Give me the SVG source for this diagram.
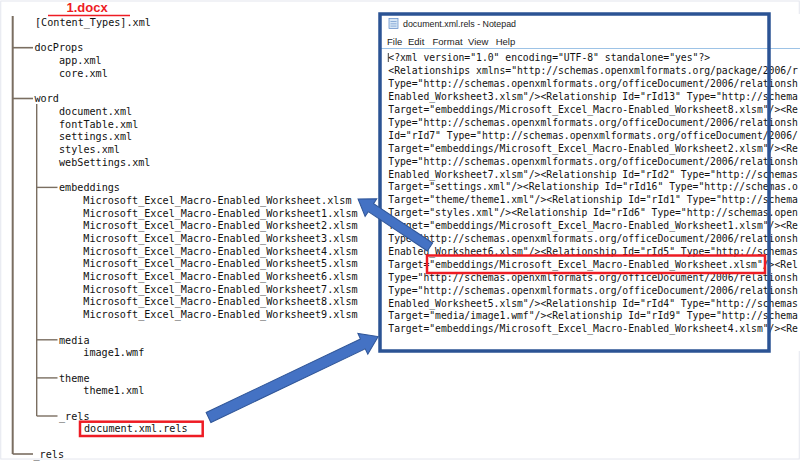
<svg xmlns="http://www.w3.org/2000/svg" width="800" height="461" viewBox="0 0 800 461">
<style>
.t{font-family:"DejaVu Sans Mono","Liberation Mono",monospace;font-size:10.15px;fill:#111}
.n{font-family:"DejaVu Sans Mono","Liberation Mono",monospace;font-size:9.72px;fill:#111}
.ui{font-family:"Liberation Sans","Open Sans",sans-serif;font-size:9.5px;fill:#222}
.tr{stroke:#7a6e61;fill:none}
.hl{fill:none;stroke:#ee1c24;stroke-width:2.5}
.arr{fill:#4472c4;stroke:#2f5597;stroke-width:1}
</style>
<rect x="0" y="0" width="800" height="461" fill="#fff"/>
<rect x="0.75" y="1" width="798.5" height="458" fill="none" stroke="#e4e6ee" stroke-width="1"/>

<g id="title">
<text x="66.5" y="11.5" font-family="Liberation Sans,Arial,sans-serif" font-size="13" font-weight="bold" fill="#ee1c24">1.docx</text>
<line x1="48" y1="15.5" x2="130" y2="15.5" stroke="#ee1c24" stroke-width="1.6"/>
</g>

<g id="tree-lines">
<line class="tr" x1="12.7" y1="16" x2="12.7" y2="454" stroke-width="2"/>
<line class="tr" x1="12.7" y1="47.7" x2="33" y2="47.7" stroke-width="1.6"/>
<line class="tr" x1="12.7" y1="98.5" x2="33" y2="98.5" stroke-width="1.6"/>
<line class="tr" x1="12.7" y1="454" x2="33" y2="454" stroke-width="1.6"/>
<line class="tr" x1="36.7" y1="104" x2="36.7" y2="416" stroke-width="1.4"/>
<line class="tr" x1="36.7" y1="187.4" x2="57.5" y2="187.4" stroke-width="1.4"/>
<line class="tr" x1="36.7" y1="339.8" x2="57.5" y2="339.8" stroke-width="1.4"/>
<line class="tr" x1="36.7" y1="377.9" x2="57.5" y2="377.9" stroke-width="1.4"/>
<line class="tr" x1="36.7" y1="416" x2="57.5" y2="416" stroke-width="1.4"/>
</g>

<g id="root-files">
<text class="t" x="35" y="26">[Content_Types].xml</text>
</g>
<g id="docProps">
<text class="t" x="34.5" y="51.4">docProps</text>
<text class="t" x="59" y="64.1">app.xml</text>
<text class="t" x="59" y="76.8">core.xml</text>
</g>
<g id="word">
<text class="t" x="34.5" y="102.2">word</text>
<text class="t" x="59" y="114.9">document.xml</text>
<text class="t" x="59" y="127.6">fontTable.xml</text>
<text class="t" x="59" y="140.3">settings.xml</text>
<text class="t" x="59" y="153">styles.xml</text>
<text class="t" x="59" y="165.7">webSettings.xml</text>
</g>
<g id="embeddings">
<text class="t" x="59" y="191.1">embeddings</text>
<text class="t" x="83.3" y="203.8">Microsoft_Excel_Macro-Enabled_Worksheet.xlsm</text>
<text class="t" x="83.3" y="216.5">Microsoft_Excel_Macro-Enabled_Worksheet1.xlsm</text>
<text class="t" x="83.3" y="229.2">Microsoft_Excel_Macro-Enabled_Worksheet2.xlsm</text>
<text class="t" x="83.3" y="241.9">Microsoft_Excel_Macro-Enabled_Worksheet3.xlsm</text>
<text class="t" x="83.3" y="254.6">Microsoft_Excel_Macro-Enabled_Worksheet4.xlsm</text>
<text class="t" x="83.3" y="267.3">Microsoft_Excel_Macro-Enabled_Worksheet5.xlsm</text>
<text class="t" x="83.3" y="280">Microsoft_Excel_Macro-Enabled_Worksheet6.xlsm</text>
<text class="t" x="83.3" y="292.7">Microsoft_Excel_Macro-Enabled_Worksheet7.xlsm</text>
<text class="t" x="83.3" y="305.4">Microsoft_Excel_Macro-Enabled_Worksheet8.xlsm</text>
<text class="t" x="83.3" y="318.1">Microsoft_Excel_Macro-Enabled_Worksheet9.xlsm</text>
</g>
<g id="media">
<text class="t" x="59" y="343.5">media</text>
<text class="t" x="83.3" y="356.2">image1.wmf</text>
</g>
<g id="theme">
<text class="t" x="59" y="381.6">theme</text>
<text class="t" x="83.3" y="394.3">theme1.xml</text>
</g>
<g id="word-rels">
<text class="t" x="59" y="419.7">_rels</text>
<text class="t" x="84" y="432.4">document.xml.rels</text>
<rect class="hl" x="80" y="421.7" width="122.7" height="14.3"/>
</g>
<g id="root-rels">
<text class="t" x="33.5" y="457.8">_rels</text>
</g>

<g id="notepad">
<rect x="380" y="14" width="420" height="337" fill="#fff"/>
<rect x="389" y="18.5" width="9" height="10" fill="#d6e6f6" stroke="#5b87c5" stroke-width="0.7"/>
<line x1="390.5" y1="21.5" x2="396.5" y2="21.5" stroke="#5b87c5" stroke-width="0.6"/>
<line x1="390.5" y1="23.8" x2="396.5" y2="23.8" stroke="#5b87c5" stroke-width="0.6"/>
<line x1="390.5" y1="26.1" x2="396.5" y2="26.1" stroke="#5b87c5" stroke-width="0.6"/>
<text class="ui" x="403" y="26.5" textLength="113" lengthAdjust="spacingAndGlyphs" fill="#333">document.xml.rels - Notepad</text>
<text class="ui" x="387" y="44.5">File</text>
<text class="ui" x="408" y="44.5">Edit</text>
<text class="ui" x="432.5" y="44.5">Format</text>
<text class="ui" x="468" y="44.5">View</text>
<text class="ui" x="495.7" y="44.5">Help</text>
<line x1="380" y1="48.5" x2="800" y2="48.5" stroke="#9dc3e6" stroke-width="1"/>
<line x1="388.3" y1="53" x2="388.3" y2="62" stroke="#111" stroke-width="0.8"/>
<text class="n" x="388.3" y="61.4">&lt;?xml version="1.0" encoding="UTF-8" standalone="yes"?&gt;</text>
<text class="n" x="388.3" y="74.3">&lt;Relationships xmlns="http://schemas.openxmlformats.org/package/2006/r</text>
<text class="n" x="388.3" y="87.2">Type="http://schemas.openxmlformats.org/officeDocument/2006/relationsh</text>
<text class="n" x="388.3" y="100.1">Enabled_Worksheet3.xlsm"/&gt;&lt;Relationship Id="rId13" Type="http://schema</text>
<text class="n" x="388.3" y="113">Target="embeddings/Microsoft_Excel_Macro-Enabled_Worksheet8.xlsm"/&gt;&lt;Re</text>
<text class="n" x="388.3" y="125.9">Type="http://schemas.openxmlformats.org/officeDocument/2006/relationsh</text>
<text class="n" x="388.3" y="138.8">Id="rId7" Type="http://schemas.openxmlformats.org/officeDocument/2006/</text>
<text class="n" x="388.3" y="151.7">Target="embeddings/Microsoft_Excel_Macro-Enabled_Worksheet2.xlsm"/&gt;&lt;Re</text>
<text class="n" x="388.3" y="164.6">Type="http://schemas.openxmlformats.org/officeDocument/2006/relationsh</text>
<text class="n" x="388.3" y="177.5">Enabled_Worksheet7.xlsm"/&gt;&lt;Relationship Id="rId2" Type="http://schemas</text>
<text class="n" x="388.3" y="190.4">Target="settings.xml"/&gt;&lt;Relationship Id="rId16" Type="http://schemas.o</text>
<text class="n" x="388.3" y="203.3">Target="theme/theme1.xml"/&gt;&lt;Relationship Id="rId1" Type="http://schema</text>
<text class="n" x="388.3" y="216.2">Target="styles.xml"/&gt;&lt;Relationship Id="rId6" Type="http://schemas.open</text>
<text class="n" x="388.3" y="229.1">Target="embeddings/Microsoft_Excel_Macro-Enabled_Worksheet1.xlsm"/&gt;&lt;Re</text>
<text class="n" x="388.3" y="242">Type="http://schemas.openxmlformats.org/officeDocument/2006/relationsh</text>
<text class="n" x="388.3" y="254.9">Enabled_Worksheet6.xlsm"/&gt;&lt;Relationship Id="rId5" Type="http://schemas</text>
<text class="n" x="388.3" y="267.8">Target="embeddings/Microsoft_Excel_Macro-Enabled_Worksheet.xlsm"/&gt;&lt;Rel</text>
<text class="n" x="388.3" y="280.7">Type="http://schemas.openxmlformats.org/officeDocument/2006/relationsh</text>
<text class="n" x="388.3" y="293.6">Type="http://schemas.openxmlformats.org/officeDocument/2006/relationsh</text>
<text class="n" x="388.3" y="306.5">Enabled_Worksheet5.xlsm"/&gt;&lt;Relationship Id="rId4" Type="http://schemas</text>
<text class="n" x="388.3" y="319.4">Target="media/image1.wmf"/&gt;&lt;Relationship Id="rId9" Type="http://schema</text>
<text class="n" x="388.3" y="332.3">Target="embeddings/Microsoft_Excel_Macro-Enabled_Worksheet4.xlsm"/&gt;&lt;Re</text>
<rect class="hl" x="427" y="255.5" width="338" height="17.5"/>
<rect x="380" y="14" width="389" height="337" fill="none" stroke="#2b5394" stroke-width="3.5"/>
</g>

<g id="connectors">
<polygon class="arr" transform="translate(430,247) rotate(-146.3)" points="0,-4.8 71,-4.8 71,-10.5 86.5,0 71,10.5 71,4.8 0,4.8"/>
<polygon class="arr" transform="translate(208.5,417.5) rotate(-25.5)" points="0,-5.5 171,-5.5 171,-11.5 188,0 171,11.5 171,5.5 0,5.5"/>
</g>
</svg>
